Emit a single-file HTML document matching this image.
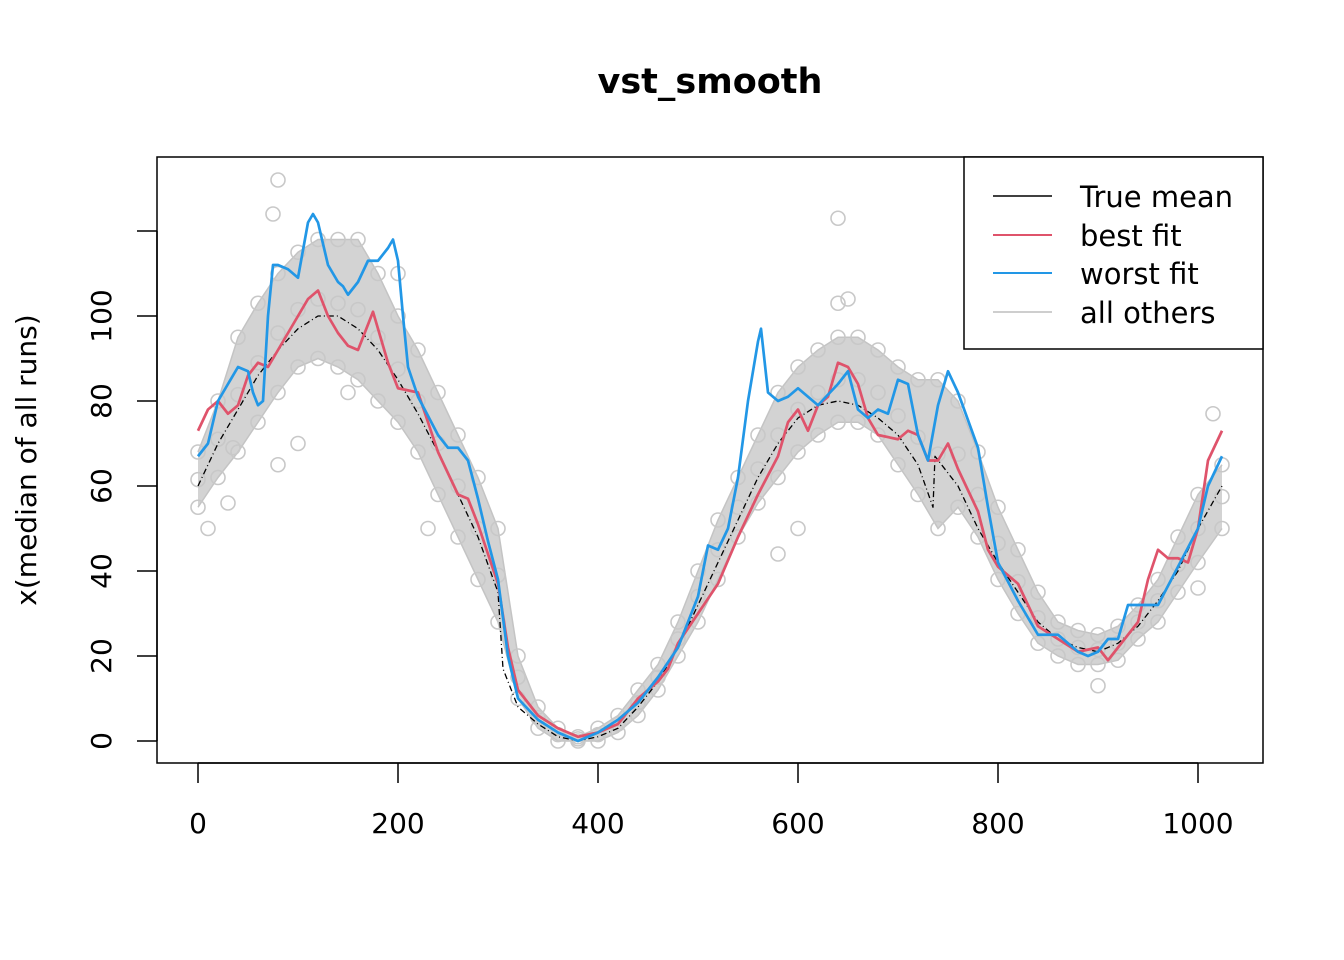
<!DOCTYPE html>
<html><head><meta charset="utf-8"><style>
body{margin:0;background:#fff;}
svg{display:block;font-family:"DejaVu Sans","Liberation Sans",sans-serif;}
</style></head><body>
<svg id="chart" width="1344" height="960" viewBox="0 0 1344 960">
<text x="710" y="93" text-anchor="middle" font-size="35" font-weight="bold">vst_smooth</text>
<text transform="translate(36,460) rotate(-90)" text-anchor="middle" font-size="28">x(median of all runs)</text>
<g id="others"></g>
<g id="marks"></g>
<rect x="157" y="157" width="1106" height="606" fill="none" stroke="#000" stroke-width="1.5"/>
<g id="axes"></g>
<g>
<rect x="964" y="157" width="299" height="192" fill="#fff" stroke="#000" stroke-width="1.5"/>
<line x1="993" y1="196" x2="1052" y2="196" stroke="#000" stroke-width="1.5"/>
<text x="1080" y="207" font-size="29">True mean</text>
<line x1="993" y1="235" x2="1052" y2="235" stroke="#df536b" stroke-width="2"/>
<text x="1080" y="246" font-size="29">best fit</text>
<line x1="993" y1="273" x2="1052" y2="273" stroke="#2297e6" stroke-width="2"/>
<text x="1080" y="284" font-size="29">worst fit</text>
<line x1="993" y1="312" x2="1052" y2="312" stroke="#bebebe" stroke-width="1.5"/>
<text x="1080" y="323" font-size="29">all others</text>
</g>
</svg>
<script>
const xTicks=[0,200,400,600,800,1000];
const yTicks=[0,20,40,60,80,100];
const bandX=[0,20,40,60,80,100,120,140,160,180,200,220,240,260,280,300,320,340,360,380,400,420,440,460,480,500,520,540,560,580,600,620,640,660,680,700,720,740,760,780,800,820,840,860,880,900,920,940,960,980,1000,1024];
const bandUpper=[68,80,95,103,110,115,118,118,118,110,100,92,82,72,62,50,20,8,3,1,3,6,12,18,28,40,52,62,72,82,88,92,95,95,92,88,85,85,80,68,55,45,35,28,26,25,27,32,38,48,58,65];
const bandLower=[55,62,68,75,82,88,90,88,85,80,75,68,58,48,38,28,10,3,0,0,0,2,6,12,20,28,38,48,56,62,68,72,75,75,72,65,58,50,55,48,38,30,23,20,18,18,19,24,28,35,42,50];
const outlierX=[80,75,640,650,640,100,80,10,30,230,580,600,900,1015,1000,200,35,150];
const outlierY=[132,124,123,104,103,70,65,50,56,50,44,50,13,77,36,110,69,82];
const trueX=[0,20,40,60,80,100,120,140,160,180,200,220,240,260,280,300,305,320,340,360,380,400,420,440,460,480,500,520,540,560,580,600,620,640,660,680,700,720,735,737,760,780,800,820,840,860,880,900,920,940,960,980,1000,1024];
const trueY=[60,70,78,86,92,97,100,100,97,92,85,77,68,58,48,35,17,8,4,1,0,1,3,8,14,22,32,42,52,62,70,76,79,80,79,76,72,65,55,67,60,50,42,35,28,24,22,21,23,27,33,40,50,60];
const bestX=[0,10,20,30,40,50,60,70,80,100,110,120,130,140,150,160,170,175,180,190,200,220,230,240,260,270,280,290,300,310,320,340,360,380,400,420,440,460,470,480,500,520,540,560,580,590,600,610,620,630,640,650,660,670,680,700,710,720,730,740,750,760,780,790,800,820,840,860,880,900,910,920,940,950,960,970,980,990,1000,1010,1024];
const bestY=[73,78,80,77,79,86,89,88,92,100,104,106,100,96,93,92,98,101,97,89,83,82,75,68,58,57,51,44,37,22,12,6,3,1,2,4,10,14,17,23,30,37,48,58,67,75,78,73,79,81,89,88,84,76,72,71,73,72,66,66,70,64,54,45,41,37,27,24,21,22,19,22,28,38,45,43,43,42,50,66,73];
const worstX=[0,10,20,30,40,50,55,60,65,70,75,80,90,100,110,115,120,130,140,145,150,160,170,180,190,195,200,205,210,220,240,250,260,270,280,290,300,310,320,340,360,380,400,420,440,460,480,500,510,520,530,540,550,560,563,570,580,590,600,620,640,650,660,670,680,690,700,710,720,730,740,750,760,780,790,800,820,840,860,880,890,900,910,920,930,940,960,980,1000,1010,1024];
const worstY=[67,70,80,84,88,87,82,79,80,100,112,112,111,109,122,124,122,112,108,107,105,108,113,113,116,118,113,100,88,81,72,69,69,66,57,47,38,20,10,5,2,0,2,5,9,15,22,34,46,45,50,62,80,94,97,82,80,81,83,79,84,87,78,76,78,77,85,84,72,66,79,87,82,69,55,42,33,25,25,21,20,21,24,24,32,32,32,41,50,60,67];

const NS='http://www.w3.org/2000/svg';
const sx=v=>198+v*1.0;
const sy=v=>741-v*4.25;
function mk(tag,attrs,parent){const e=document.createElementNS(NS,tag);for(const k in attrs)e.setAttribute(k,attrs[k]);parent.appendChild(e);return e;}
const others=document.getElementById('others');
const marks=document.getElementById('marks');
const axes=document.getElementById('axes');
let pts=bandX.map((x,i)=>sx(x)+','+sy(bandUpper[i]));
for(let i=bandX.length-1;i>=0;i--)pts.push(sx(bandX[i])+','+sy(bandLower[i]));
const band=mk('polygon',{points:pts.join(' '),fill:'#d3d3d3'},others);


function line(xs,ys,attrs,name){const p=mk('polyline',Object.assign({points:xs.map((x,i)=>sx(x)+','+sy(ys[i])).join(' '),fill:'none'},attrs),others);return p;}
line(bandX,bandUpper,{stroke:'#c4c4c4','stroke-width':1.5},'others-upper-line');
line(bandX,bandLower,{stroke:'#c4c4c4','stroke-width':1.5},'others-lower-line');
bandX.forEach((x,i)=>{
  [bandUpper[i],bandLower[i],(bandUpper[i]+bandLower[i])/2].forEach(v=>{
    const c=mk('circle',{cx:sx(x),cy:sy(v),r:7,fill:'none',stroke:'#c8c8c8','stroke-width':1.6},others);
    
    
  });
});
outlierX.forEach((x,i)=>{
  const c=mk('circle',{cx:sx(x),cy:sy(outlierY[i]),r:7,fill:'none',stroke:'#c8c8c8','stroke-width':1.6},others);
  
  
});
function series(xs,ys,attrs,name){const p=mk('polyline',Object.assign({points:xs.map((x,i)=>sx(x)+','+sy(ys[i])).join(' '),fill:'none','stroke-linejoin':'round'},attrs),marks);}
series(trueX,trueY,{stroke:'#000','stroke-width':1.3,'stroke-dasharray':'6,3,1,3'},'true-mean-line');
series(bestX,bestY,{stroke:'#df536b','stroke-width':2.7},'best-fit-line');
series(worstX,worstY,{stroke:'#2297e6','stroke-width':2.7},'worst-fit-line');
mk('line',{x1:sx(0),x2:sx(1000),y1:763,y2:763,stroke:'#000','stroke-width':1.5},axes);
xTicks.forEach(t=>{
  const l=mk('line',{x1:sx(t),x2:sx(t),y1:763,y2:783,stroke:'#000','stroke-width':1.5},axes);
  
  
  const tx=mk('text',{x:sx(t),y:833,'text-anchor':'middle','font-size':28},axes);
  tx.textContent=t;
  
  
});
mk('line',{x1:157,x2:157,y1:sy(0),y2:sy(120),stroke:'#000','stroke-width':1.5},axes);
yTicks.concat([120]).forEach(t=>{
  const l=mk('line',{x1:137,x2:157,y1:sy(t),y2:sy(t),stroke:'#000','stroke-width':1.5},axes);
  
  
});
yTicks.forEach(t=>{
  const tx=mk('text',{transform:'translate(111,'+sy(t)+') rotate(-90)','text-anchor':'middle','font-size':28},axes);
  tx.textContent=t;
  
  
});
</script>
</body></html>
